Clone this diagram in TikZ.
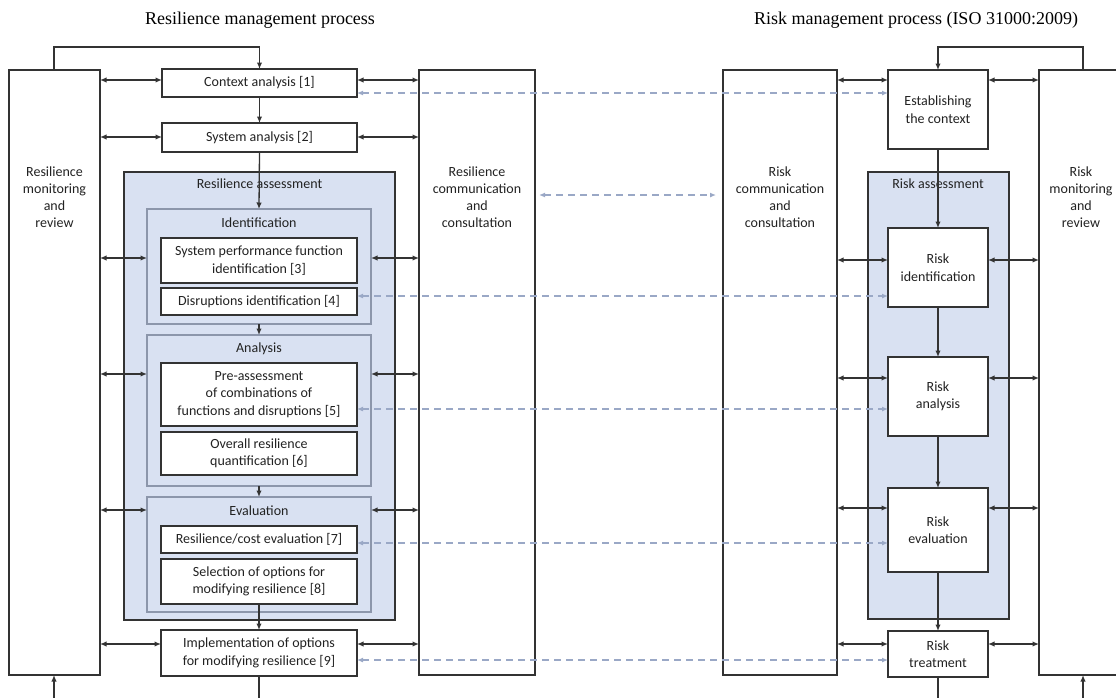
\documentclass[tikz,border=0pt]{standalone}
\usepackage{fontspec}
\setmainfont{Carlito}
\newfontfamily\titlefont{Liberation Serif}
\usetikzlibrary{arrows.meta,calc}
\definecolor{bfill}{HTML}{D9E1F2}
\definecolor{sbord}{HTML}{8C96AB}
\definecolor{dcol}{HTML}{9AA8C6}
\definecolor{ink}{HTML}{333333}
\definecolor{txt}{HTML}{222222}
\newcommand\bx[7][]{%
  \node[box,#1,minimum width={#5-#3},minimum height={#6-#4}] (#2) at ({(#3+#5)/2},{(#4+#6)/2}) {#7};}
\begin{document}
\begin{tikzpicture}[x=1pt,y=-1pt,
  box/.style={draw=ink,line width=1.6pt,fill=white,inner sep=2pt,outer sep=0pt,align=center,
    text=txt,font=\fontsize{14}{17.5}\selectfont},
  assess/.style={fill=bfill,draw=ink,line width=1.6pt},
  sub/.style={fill=bfill,draw=sbord,line width=1.1pt},
  plain/.style={draw=ink,line width=1.6pt,fill=white},
  lbl/.style={align=center,text=txt,inner sep=0pt,font=\fontsize{14}{17.2}\selectfont},
  ttl/.style={inner sep=0pt,text=black,font=\titlefont\fontsize{18}{20}\selectfont},
  arr/.style={draw=ink,line width=1.3pt,-{Latex[length=6.5pt,width=5.5pt]}},
  biarr/.style={draw=ink,line width=1.3pt,{Latex[length=6.5pt,width=5.5pt]}-{Latex[length=6.5pt,width=5.5pt]}},
  dsh/.style={draw=dcol,line width=1.2pt,dash pattern=on 7pt off 5pt,{Latex[length=6pt,width=5pt]}-{Latex[length=6pt,width=5pt]}},
  ln/.style={draw=ink,line width=1.3pt}]
\useasboundingbox (0,0) rectangle (1116,697);
\clip (0,0) rectangle (1116,697);
% titles
\node[ttl] (t1) at (260,20) {Resilience management process};
\node[ttl] (t2) at (916,20) {Risk management process (ISO 31000:2009)};
% ---------- left side ----------
\bx[plain]{monL}{9}{70}{100}{675}{}
\node[lbl] (tmonL) at (54.5,197) {Resilience\\monitoring\\and\\review};
\bx[plain]{commL}{419}{70}{535}{675}{}
\node[lbl] (tcommL) at (477,197) {Resilience\\communication\\and\\consultation};
\bx{ctx}{162}{69}{357}{97}{Context analysis [1]}
\bx{sys}{162}{123}{357}{152}{System analysis [2]}
\bx[assess]{assessL}{124}{172}{395}{620}{}
\node[lbl] (tassL) at (259.5,184) {Resilience assessment};
\bx[sub]{idL}{147}{209}{371}{324}{}
\node[lbl] (tidL) at (259,223) {Identification};
\bx{spf}{161}{238}{357}{283}{System performance function\\identification [3]}
\bx{dis}{161}{288}{357}{315}{Disruptions identification [4]}
\bx[sub]{anL}{147}{335}{371}{486}{}
\node[lbl] (tanL) at (259,349) {Analysis};
\bx{pre}{161}{363}{357}{426}{Pre-assessment\\of combinations of\\functions and disruptions [5]}
\bx{ovr}{161}{432}{357}{475}{Overall resilience\\quantification [6]}
\bx[sub]{evL}{147}{497}{371}{612}{}
\node[lbl] (tevL) at (259,511) {Evaluation};
\bx{rce}{161}{526}{357}{553}{Resilience/cost evaluation [7]}
\bx{sel}{161}{559}{357}{604}{Selection of options for\\modifying resilience [8]}
\bx{imp}{161}{630}{357}{676}{Implementation of options\\for modifying resilience [9]}
% ---------- right side ----------
\bx[plain]{commR}{723}{70}{837}{675}{}
\node[lbl] (tcommR) at (780,197) {Risk\\communication\\and\\consultation};
\bx[plain]{monR}{1039}{70}{1140}{675}{}
\node[lbl] (tmonR) at (1081,197) {Risk\\monitoring\\and\\review};
\bx{est}{888}{70}{988}{149}{Establishing\\the context}
\bx[assess]{assessR}{868}{172}{1009}{619}{}
\node[lbl] (tassR) at (938,184) {Risk assessment};
\bx{rid}{888}{228}{988}{307}{Risk\\identification}
\bx{ran}{888}{357}{988}{436}{Risk\\analysis}
\bx{rev}{888}{488}{988}{572}{Risk\\evaluation}
\bx{trt}{888}{631}{988}{677}{Risk\\treatment}
% ---------- left vertical flow ----------
\coordinate (lpL) at (54,47);
\draw[arr] (monL.north -| lpL) -- (lpL) -| (ctx.north);
\draw[arr] (ctx.south) -- (sys.north);
\draw[arr] (sys.south) -- (idL.north);
\draw[arr] (idL.south) -- (anL.north);
\draw[arr] (anL.south) -- (evL.north);
\draw[arr] (sel.south) -- (imp.north);
\coordinate (bL) at (54,700);
\draw[ln] (imp.south) -- (imp.south |- bL);
\draw[arr] (bL) -- (bL |- monL.south);
% left horizontal arrows
\coordinate (hL1) at ([yshift=-11pt]ctx.north west);
\coordinate (hL2) at ([yshift=-14pt]sys.north west);
\coordinate (hL3) at ([yshift=-49pt]idL.north west);
\coordinate (hL4) at ([yshift=-39pt]anL.north west);
\coordinate (hL5) at ([yshift=-13pt]evL.north west);
\coordinate (hL6) at ([yshift=-14pt]imp.north west);
\draw[biarr] (hL1 -| monL.east) -- (hL1);
\draw[biarr] (hL2 -| monL.east) -- (hL2);
\draw[biarr] (hL3 -| monL.east) -- (hL3);
\draw[biarr] (hL4 -| monL.east) -- (hL4);
\draw[biarr] (hL5 -| monL.east) -- (hL5);
\draw[biarr] (hL6 -| monL.east) -- (hL6);
\draw[biarr] (hL1 -| ctx.east) -- (hL1 -| commL.west);
\draw[biarr] (hL2 -| sys.east) -- (hL2 -| commL.west);
\draw[biarr] (hL3 -| idL.east) -- (hL3 -| commL.west);
\draw[biarr] (hL4 -| anL.east) -- (hL4 -| commL.west);
\draw[biarr] (hL5 -| evL.east) -- (hL5 -| commL.west);
\draw[biarr] (hL6 -| imp.east) -- (hL6 -| commL.west);
% ---------- right vertical flow ----------
\coordinate (lpR) at (1083,47);
\draw[arr] (monR.north -| lpR) -- (lpR) -| (est.north);
\draw[arr] (est.south) -- (rid.north);
\draw[arr] (rid.south) -- (ran.north);
\draw[arr] (ran.south) -- (rev.north);
\draw[arr] (rev.south) -- (trt.north);
\coordinate (bR) at (1083,700);
\draw[ln] (trt.south) -- (trt.south |- bR);
\draw[arr] (bR) -- (bR |- monR.south);
% right horizontal arrows
\coordinate (hR1) at ([yshift=-10pt]est.north west);
\coordinate (hR2) at ([yshift=-32pt]rid.north west);
\coordinate (hR3) at ([yshift=-21pt]ran.north west);
\coordinate (hR4) at ([yshift=-20pt]rev.north west);
\coordinate (hR5) at ([yshift=-13pt]trt.north west);
\foreach \h/\b in {hR1/est,hR2/rid,hR3/ran,hR4/rev,hR5/trt}{
  \draw[biarr] (\h -| commR.east) -- (\h -| \b.west);
  \draw[biarr] (\h -| \b.east) -- (\h -| monR.west);
}
% ---------- dashed correspondences ----------
\coordinate (d1) at ([yshift=4pt]ctx.south east);
\coordinate (d2) at ([yshift=-8pt]dis.north east);
\coordinate (d3) at ([yshift=17pt]pre.south east);
\coordinate (d4) at ([yshift=10pt]rce.south east);
\coordinate (d5) at ([yshift=16pt]imp.south east);
\draw[dsh] (d1) -- (d1 -| est.west);
\draw[dsh] (d2) -- (d2 -| rid.west);
\draw[dsh] (d3) -- (d3 -| ran.west);
\draw[dsh] (d4) -- (d4 -| rev.west);
\draw[dsh] (d5) -- (d5 -| trt.west);
\coordinate (d0) at ([yshift=-125pt]commL.north east);
\draw[dsh,shorten <=4pt,shorten >=7pt] (d0) -- (d0 -| commR.west);
\end{tikzpicture}
\end{document}
